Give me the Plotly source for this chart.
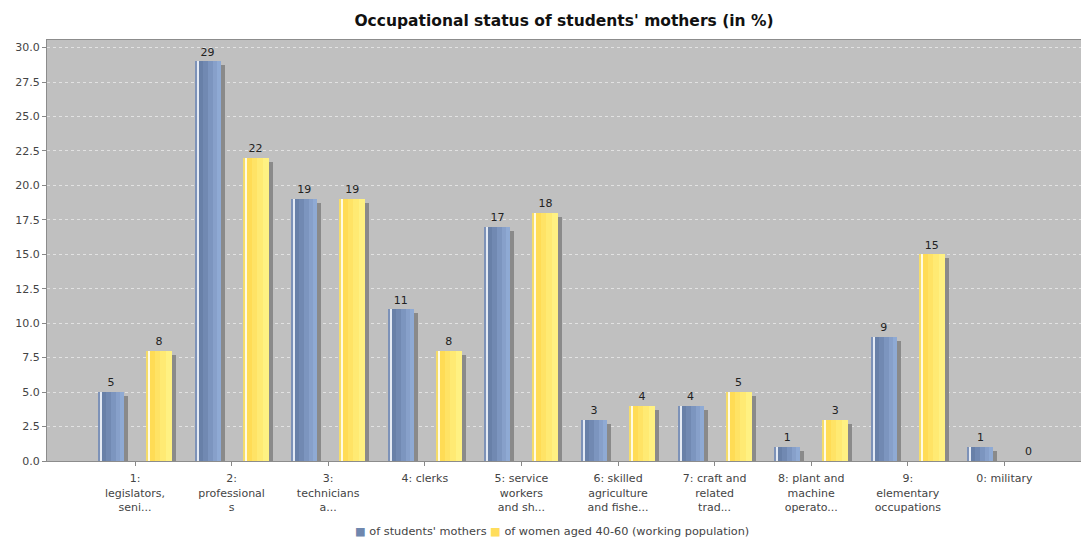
import plotly.graph_objects as go

categories = ["1:<br>legislators,<br>seni...", "2:<br>professional<br>s", "3:<br>technicians<br>a...",
              "4: clerks", "5: service<br>workers<br>and sh...", "6: skilled<br>agriculture<br>and fishe...",
              "7: craft and<br>related<br>trad...", "8: plant and<br>machine<br>operato...",
              "9:<br>elementary<br>occupations", "0: military"]
mothers = [5, 29, 19, 11, 17, 3, 4, 1, 9, 1]
women = [8, 22, 19, 8, 18, 4, 5, 3, 15, 0]
series_names = ["of students' mothers", "of women aged 40-60 (working population)"]

W, H = 1081, 537
ML, MR, MT, MB = 47, 0, 40, 76
XR = [-0.911, 9.793]
YR = [0, 30.55]
pxu_x = (W - ML - MR) / (XR[1] - XR[0])
pxu_y = (H - MT - MB) / (YR[1] - YR[0])

def ux(px):
    return px / pxu_x

def uy(px):
    return px / pxu_y

xs = list(range(len(categories)))
bar_w = 26
centers = {0: -24, 1: 24}

blue_strips = [(0, 2, '#7d92b8'), (2, 2, '#e4eaf4'), (4, 4, '#6880a8'), (8, 5, '#7189b2'),
               (13, 5, '#7c95bf'), (18, 4, '#87a0ca'), (22, 4, '#8faad4')]
yellow_strips = [(0, 2, '#f4dc6a'), (2, 2, '#fffbe2'), (4, 5, '#ffdc55'), (9, 5, '#ffe365'),
                 (14, 6, '#ffea73'), (20, 6, '#fff182')]
legend_colors = ['#6f87ae', '#ffdd5c']

fig = go.Figure()

# shadows
for si, vals in enumerate([mothers, women]):
    left = centers[si] - bar_w / 2
    fig.add_trace(go.Bar(
        x=xs, y=[max(0, v - uy(4)) for v in vals], base=0,
        width=ux(bar_w), offset=ux(left + 4),
        marker=dict(color='#8a8a8a', line=dict(width=0)),
        showlegend=False, hoverinfo='skip'))

# main bars
for si, vals in enumerate([mothers, women]):
    left = centers[si] - bar_w / 2
    fig.add_trace(go.Bar(
        x=xs, y=vals, width=ux(bar_w), offset=ux(left), name=series_names[si],
        marker=dict(color=legend_colors[si], line=dict(width=0)),
        showlegend=False))
    strips = blue_strips if si == 0 else yellow_strips
    for (o, w, c) in strips:
        fig.add_trace(go.Bar(
            x=xs, y=vals, width=ux(w), offset=ux(left + o),
            marker=dict(color=c, line=dict(width=0)),
            showlegend=False, hoverinfo='skip'))
    fig.add_trace(go.Scatter(
        x=[x + ux(centers[si]) for x in xs], y=[v + uy(3) for v in vals], mode='text',
        text=[str(v) for v in vals], textposition='top center',
        textfont=dict(size=11, color='#222', family='DejaVu Sans'),
        showlegend=False, hoverinfo='skip', cliponaxis=False))

legend_text = ('<span style="color:%s">■</span> %s <span style="color:%s">■</span> %s'
               % (legend_colors[0], series_names[0], legend_colors[1], series_names[1]))

fig.update_layout(
    width=W, height=H, autosize=False, barmode='overlay',
    margin=dict(l=ML, r=MR, t=MT, b=MB, autoexpand=False),
    paper_bgcolor='white', plot_bgcolor='#c0c0c0',
    font=dict(family='DejaVu Sans', size=11, color='#444'),
    title=dict(text="Occupational status of students' mothers (in %)", x=0.5, xref='paper',
               y=1 - 21 / H, yanchor='middle', automargin=False,
               font=dict(size=15.5, color='#111', family='DejaVu Sans', weight='bold')),
    showlegend=False,
    annotations=[dict(text=legend_text, xref='paper', yref='paper',
                      x=(552 - ML) / (W - ML - MR), y=-(531 - (H - MB)) / (H - MT - MB),
                      xanchor='center', yanchor='middle', showarrow=False,
                      font=dict(size=11.3, color='#444', family='DejaVu Sans'))],
    bargap=0,
)
fig.update_xaxes(range=XR, tickmode='array', tickvals=xs, ticktext=categories,
                 showgrid=False, zeroline=False, ticks='outside', ticklen=4, tickcolor='#888',
                 showline=True, linecolor='#8c8c8c', mirror=True, automargin=False,
                 ticklabelstandoff=3,
                 tickfont=dict(size=11, color='#444'))
fig.update_yaxes(range=YR, tickmode='array', tickvals=[i * 2.5 for i in range(13)],
                 tickformat='.1f', showgrid=True, gridcolor='#e2e2e2', griddash='3px,3px',
                 gridwidth=1, zeroline=False, ticks='outside', ticklen=4, tickcolor='#888',
                 showline=True, linecolor='#8c8c8c', mirror=True, automargin=False,
                 tickfont=dict(size=11, color='#444'))

post = ("document.documentElement.style.margin='0';document.body.style.margin='0';"
        "document.body.style.padding='0';document.body.style.overflow='hidden';"
        "var gd=document.getElementById('{plot_id}');"
        "Plotly.relayout(gd,{width:%d,height:%d});" % (W, H))
fig.write_html("out.html", post_script=post,
               config={'responsive': False, 'displayModeBar': False})
